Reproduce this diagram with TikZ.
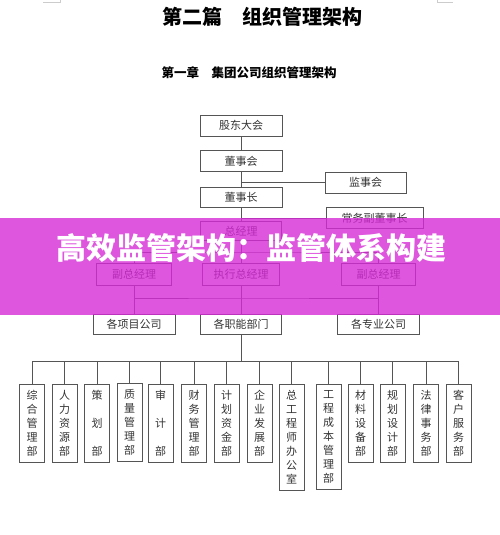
\documentclass[tikz,border=0pt]{standalone}
\usepackage{fontspec}
\setmainfont{Noto Sans CJK SC}
\usetikzlibrary{positioning}
\definecolor{linegray}{HTML}{555555}
\definecolor{txtgray}{HTML}{333333}
\definecolor{bandpink}{RGB}{214,42,214}

\begin{document}
\begin{tikzpicture}[x=1pt,y=-1pt,
  every node/.style={font=\fontsize{11}{14}\selectfont,text=txtgray,align=center},
  box/.style={draw=linegray,line width=0.8pt,minimum height=21pt,inner sep=0pt},
  colbox/.style={draw=linegray,line width=0.8pt,minimum width=25pt,minimum height=78pt,
    inner xsep=0pt,inner ysep=6pt,anchor=north},
  link/.style={draw=linegray,line width=0.8pt}]
\useasboundingbox (0,0) rectangle (500,535);
% page corner marks
\draw[gray!40] (43,2) -- (60,2) -- (60,0);
\draw[gray!40] (437,0) -- (437,2) -- (453,2);
% headings
\node[font=\bfseries\fontsize{20}{24}\selectfont,text=black] (title) at (262,17) {第二篇　组织管理架构};
\node[font=\bfseries\fontsize{12.5}{15}\selectfont,text=black] (chapter) at (249,73) {第一章　集团公司组织管理架构};
% upper chain
\node[box,minimum width=82pt] (gudong) at (241,125.5) {股东大会};
\node[box,minimum width=82pt] (dongshihui) at (241,161) {董事会};
\node[box,minimum width=82pt,minimum height=20pt] (dongshizhang) at (241,197) {董事长};
\node[box,minimum width=81pt] (jianshi) at (365.5,182.5) {监事会};
\node[box,minimum width=97pt] (changwu) at (374.5,218) {常务副董事长};
\node[box,minimum width=81pt,minimum height=19pt] (zongjingli) at (241,231) {总经理};
\node[box,minimum width=75pt,minimum height=22pt] (fuzongL) at (134,274) {副总经理};
\node[box,minimum width=77pt,minimum height=22pt] (zhixing) at (241,274) {执行总经理};
\node[box,minimum width=74pt,minimum height=22pt] (fuzongR) at (378.5,274) {副总经理};
\node[box,minimum width=82pt,minimum height=20pt] (xiangmu) at (134,324) {各项目公司};
\node[box,minimum width=81pt,minimum height=20pt] (zhineng) at (241,324) {各职能部门};
\node[box,minimum width=82pt,minimum height=20pt] (zhuanye) at (378.5,324) {各专业公司};
% departments
\node[colbox] (zonghe) at (32,384) {综\\合\\管\\理\\部};
\node[colbox] (renli) at (64.5,384) {人\\力\\资\\源\\部};
\node[colbox] (cehua) at (97,384) {策\\[14pt]划\\[14pt]部};
\node[colbox] (zhiliang) at (129.5,383) {质\\量\\管\\理\\部};
\node[colbox] (shenji) at (160.5,384) {审\\[14pt]计\\[14pt]部};
\node[colbox] (caiwu) at (194,384) {财\\务\\管\\理\\部};
\node[colbox] (jihua) at (226.5,384) {计\\划\\资\\金\\部};
\node[colbox] (qiye) at (259.5,384) {企\\业\\发\\展\\部};
\node[colbox] (zonggong) at (291.5,384) {总\\工\\程\\师\\办\\公\\室};
\node[colbox] (chengben) at (328.5,384) {工\\程\\成\\本\\管\\理\\部};
\node[colbox] (cailiao) at (360.5,384) {材\\料\\设\\备\\部};
\node[colbox] (guihua) at (392.5,384) {规\\划\\设\\计\\部};
\node[colbox] (falv) at (426,384) {法\\律\\事\\务\\部};
\node[colbox] (kehu) at (458.5,384) {客\\户\\服\\务\\部};
% connectors
\coordinate (gmbus) at (241,252);
\coordinate (vpbus) at (241,298);
\coordinate (deptbus) at (241,361);
\draw[link] (gudong) -- (dongshihui);
\draw[link] (dongshihui) -- (dongshizhang);
\draw[link] (jianshi.west) -- (jianshi.west -| dongshihui.south);
\draw[link] (dongshizhang) -- (zongjingli);
\draw[link] (changwu.west) -- (changwu.west -| dongshizhang.south);
\draw[link] (zongjingli) -- (zhixing);
\draw[link] (fuzongL) |- (gmbus) -| (fuzongR);
\draw[link] (fuzongL) -- (xiangmu);
\draw[link] (zhixing) -- (zhineng);
\draw[link] (fuzongR) -- (zhuanye);
\draw[link] (xiangmu) |- (vpbus) -| (zhuanye);
\draw[link] (zhineng) -- (deptbus);
\draw[link] (zonghe.north |- deptbus) -- (kehu.north |- deptbus);
\draw[link] (zonghe) -- (zonghe.north |- deptbus);
\draw[link] (renli) -- (renli.north |- deptbus);
\draw[link] (cehua) -- (cehua.north |- deptbus);
\draw[link] (zhiliang) -- (zhiliang.north |- deptbus);
\draw[link] (shenji) -- (shenji.north |- deptbus);
\draw[link] (caiwu) -- (caiwu.north |- deptbus);
\draw[link] (jihua) -- (jihua.north |- deptbus);
\draw[link] (qiye) -- (qiye.north |- deptbus);
\draw[link] (zonggong) -- (zonggong.north |- deptbus);
\draw[link] (chengben) -- (chengben.north |- deptbus);
\draw[link] (cailiao) -- (cailiao.north |- deptbus);
\draw[link] (guihua) -- (guihua.north |- deptbus);
\draw[link] (falv) -- (falv.north |- deptbus);
\draw[link] (kehu) -- (kehu.north |- deptbus);
% banner over the chart
\fill[bandpink,fill opacity=0.8] (0,218) rectangle (500,314.5);
\node[font=\bfseries\fontsize{30}{36}\selectfont,text=white] (banner) at (251,248) {高效监管架构：监管体系构建};
\end{tikzpicture}
\end{document}
